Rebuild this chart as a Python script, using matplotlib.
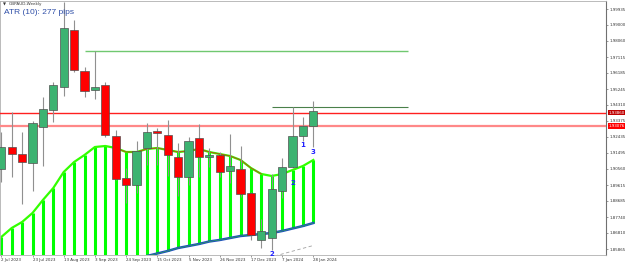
import numpy as np
import matplotlib as mpl
mpl.use('Agg')
import matplotlib.pyplot as plt

# weekly GBPAUD candles, one per week starting 2 Jul 2023
opens = [1.90556, 1.91845, 1.91435, 1.90908, 1.93017, 1.94014, 1.95362, 1.98704,
         1.96300, 1.95187, 1.95480, 1.92490, 1.90029, 1.89618, 1.91787, 1.92783,
         1.92549, 1.91259, 1.90087, 1.92373, 1.91259, 1.91377, 1.90439, 1.90556,
         1.89149, 1.86394, 1.86511, 1.89266, 1.90673, 1.92490, 1.93076]
highs = [1.92724, 1.93897, 1.92724, 1.93370, 1.94776, 1.95656, 2.00345, 1.99290,
         1.96535, 1.97473, 1.95656, 1.92842, 1.90615, 1.92197, 1.93252, 1.92959,
         1.93428, 1.92080, 1.92431, 1.93193, 1.91787, 1.91552, 1.92607, 1.91904,
         1.89208, 1.87625, 1.90263, 1.91201, 1.94190, 1.93604, 1.94542]
lows = [1.89794, 1.90087, 1.88504, 1.89266, 1.90732, 1.93311, 1.94835, 1.96242,
        1.94776, 1.94659, 1.92431, 1.89912, 1.88563, 1.89149, 1.90791, 1.90791,
        1.90146, 1.88973, 1.89618, 1.90087, 1.90673, 1.90087, 1.89735, 1.88915,
        1.86394, 1.85925, 1.85807, 1.88856, 1.90615, 1.92197, 1.91845]
closes = [1.91845, 1.91435, 1.90966, 1.93252, 1.94073, 1.95480, 1.98821, 1.96359,
          1.95128, 1.95362, 1.92549, 1.89970, 1.89618, 1.91611, 1.92724, 1.92666,
          1.91377, 1.90087, 1.92197, 1.91259, 1.91377, 1.90380, 1.90732, 1.89091,
          1.86687, 1.86921, 1.89384, 1.90673, 1.92490, 1.93076, 1.93955]

# indicator band (upper lime line, lower blue line)
band_upper = [1.86570, 1.87097, 1.87449, 1.87977, 1.88739, 1.89442, 1.90380, 1.90966,
              1.91377, 1.91845, 1.91904, 1.91787, 1.91552, 1.91552, 1.91728, 1.91787,
              1.91670, 1.91552, 1.91611, 1.91728, 1.91552, 1.91435, 1.91318, 1.91084,
              1.90615, 1.90263, 1.90146, 1.90263, 1.90498, 1.90732, 1.91084]
band_lower = [1.8320, 1.8335, 1.8350, 1.8368, 1.8385, 1.8402, 1.8420, 1.8440,
              1.8460, 1.8478, 1.8495, 1.8510, 1.8522, 1.8534, 1.85455, 1.85602,
              1.85749, 1.85925, 1.86042, 1.86159, 1.86306, 1.86394, 1.86511, 1.86628,
              1.86687, 1.86745, 1.86804, 1.86921, 1.87068, 1.87214, 1.87390]

date_labels = ['2 Jul 2023', '23 Jul 2023', '13 Aug 2023', '3 Sep 2023', '24 Sep 2023',
               '15 Oct 2023', '5 Nov 2023', '26 Nov 2023', '17 Dec 2023', '7 Jan 2024',
               '28 Jan 2024']
price_ticks = [1.99935, 1.99000, 1.98060, 1.97115, 1.96185, 1.95245, 1.94310, 1.93375,
               1.92435, 1.91495, 1.90560, 1.89615, 1.88685, 1.87740, 1.86810, 1.85865]

red_levels = [1.93860, 1.93076]
green_level = 1.97473
dark_level = 1.94175
trend = ([26.3, 30.0], [1.85455, 1.86071])
wave_marks = [(26, 1.85573, '2'), (28, 1.89735, '2'), (29, 1.91962, '1'), (30, 1.91552, '3')]

W, H = 625, 263
fig = plt.figure(figsize=(W / 100, H / 100), dpi=100)
ax = fig.add_axes([0 / W, (H - 255) / H, 606 / W, 254 / H])

x = np.arange(len(opens))
ax.set_xlim(-0.125, 58.14)
ax.set_ylim(1.85514, 2.00404)

# histogram of the band
ax.vlines(x, band_lower, band_upper, color='#00ff00', lw=2.2, zorder=1)
ax.plot(x, band_upper, color='#33ff00', lw=1.6, zorder=2)
ax.plot(x[11:26], band_upper[11:26], color='#b05a10', lw=0.7, zorder=3)
ax.plot(x, band_lower, color='#2050c0', lw=1.8, zorder=2)
ax.plot(x, band_lower, color='#30b040', lw=0.4, zorder=2)

# horizontal levels
for lvl, c, lw in zip(red_levels, ['#ff2020', '#ff8888'], [1.0, 1.6]):
    ax.axhline(lvl, color=c, lw=lw, zorder=4)
ax.hlines(green_level, 8.05, 39.1, color='#70c870', lw=1.0, zorder=4)
ax.hlines(dark_level, 26.0, 39.1, color='#4a804a', lw=0.8, zorder=4)
ax.plot(trend[0], trend[1], color='#a0a0a0', lw=0.6, ls=(0, (4, 3)), zorder=4)

# candles
for i in x:
    o, h, l, c = opens[i], highs[i], lows[i], closes[i]
    ax.vlines(i, l, h, color='#909090', lw=0.8, zorder=5)
    up = c >= o
    body = max(abs(c - o), 0.0003)
    ax.bar(i, body, bottom=min(o, c), width=0.78,
           color='#3cb371' if up else '#ff0000', edgecolor='#505050', lw=0.5, zorder=6)

for i, p, t in wave_marks:
    ax.text(i, p, t, color='#2020ff', fontsize=5, fontweight='bold',
            ha='center', va='center', zorder=7)

# axes cosmetics
for s in ['left', 'top', 'bottom']:
    ax.spines[s].set_color('#b0b0b0')
    ax.spines[s].set_linewidth(0.6)
ax.spines['right'].set_color('#707070')
ax.spines['right'].set_linewidth(0.8)

ax.yaxis.tick_right()
ax.set_yticks(price_ticks)
ax.set_yticklabels(['%.5f' % v for v in price_ticks], fontsize=2.9, color='#333333')
ax.tick_params(axis='y', length=1.5, width=0.5, pad=1.0, color='#707070')

ax.set_xticks(x[::3])
ax.set_xticklabels(date_labels, fontsize=2.9, color='#333333', ha='left')
ax.tick_params(axis='x', length=1.5, width=0.5, pad=0.8, color='#707070')
for lab in ax.get_xticklabels():
    lab.set_x(lab.get_position()[0] + 0.05)

# red price tags on the axis
for lvl, fc in zip(red_levels, ['#c00000', '#ff0000']):
    ax.text(1.004, lvl, '%.5f' % lvl, transform=ax.get_yaxis_transform(),
            fontsize=2.9, color='white', va='center', ha='left',
            bbox=dict(boxstyle='square,pad=0.2', fc=fc, ec='none'), zorder=8)

fig.text(3 / W, 1 - 4.5 / H, '\u25bc', fontsize=2.8, color='#333333', va='center')
fig.text(9 / W, 1 - 4.5 / H, 'GBPAUD,Weekly', fontsize=3.0, color='#333333', va='center')
fig.text(4 / W, 1 - 13 / H, 'ATR (10): 277 pips', fontsize=6, color='#2f4fa8',
         va='center', family='Liberation Sans')

fig.savefig('out.png', dpi=100)
